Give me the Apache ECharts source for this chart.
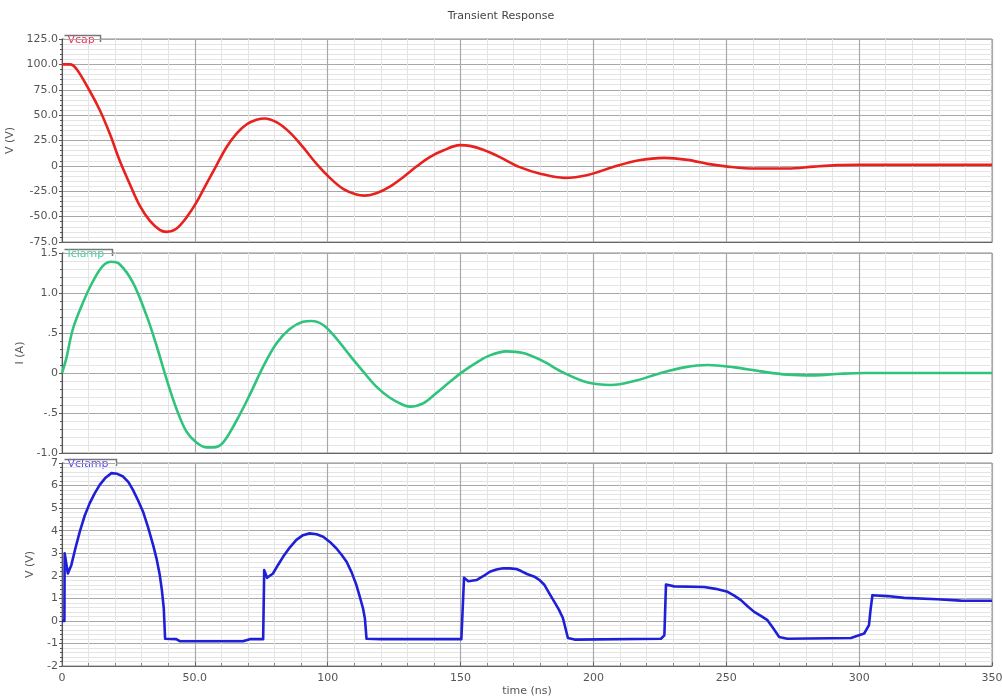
<!DOCTYPE html>
<html>
<head>
<meta charset="utf-8">
<title>Transient Response</title>
<script src="https://cdn.jsdelivr.net/npm/echarts@6/dist/echarts.min.js"></script>
<style>
	html, body { margin: 0; padding: 0; background: #fff; }
	#main { width: 1002px; height: 700px; }
</style>
</head>
<body>
<div id="main"></div>
<script>
// Vcap (V)
var vcapT = [0, 3, 5.4, 10.4, 14.2, 18, 21.7, 25.5, 29.2, 33, 36.8, 39.3, 43, 46.8, 50.6, 54.3, 58.1, 61.9, 65.6, 69.4,
	73.2, 76.3, 80.7, 85.7, 90.7, 95.8, 100.8, 105.8, 110.8, 114, 118.3, 123.4, 128.4, 133.4, 138.4, 143.4, 149.7, 153.5, 158.5, 164.8,
	172, 180.3, 189, 197.9, 207.9, 216.7, 226.7, 235.5, 243, 250.5, 260.5, 273, 283, 291.8, 300, 350];
var vcapV = [100, 100, 95.7, 74, 55, 31.6, 5.3, -17.8, -39, -54, -63, -65, -62, -51, -36, -18, 0.3, 18.4, 31.6, 40.8,
	45.4, 46.7, 43, 33, 18.4, 2, -11.8, -22.7, -28.3, -29.3, -27, -20.4, -11.2, -0.7, 8.6, 15.1, 20.4, 19.7, 15.8, 8.6,
	-1, -7.9, -11.8, -8.9, -0.7, 5.3, 7.9, 5.9, 2, -0.7, -2.6, -2.6, -0.7, 0.7, 1, 1];

// Iclamp (A)
var iclampT = [0, 1.6, 4.1, 7.9, 11.7, 15.4, 18.6, 21.7, 26.7, 31.8, 35.5, 39.3, 43, 46.8, 50.6, 54.3, 56.9, 60.6, 65.6, 70.7,
	75.7, 80.7, 85.7, 90.7, 93.9, 98.3, 103.3, 108.3, 113.3, 118.3, 123.4, 128.4, 130.9, 135.9, 140.9, 146, 151, 156, 161, 167.3,
	173.5, 180.3, 189, 197.9, 206.6, 215.4, 225.4, 234.2, 243, 253, 263, 273, 283, 293, 302, 350];
var iclampV = [0, 0.18, 0.55, 0.88, 1.15, 1.34, 1.39, 1.36, 1.13, 0.72, 0.35, -0.07, -0.44, -0.73, -0.87, -0.93, -0.93, -0.87, -0.6, -0.27,
	0.08, 0.37, 0.55, 0.64, 0.65, 0.6, 0.43, 0.22, 0.02, -0.17, -0.31, -0.4, -0.42, -0.38, -0.25, -0.11, 0.02, 0.13, 0.22, 0.27,
	0.25, 0.16, 0, -0.12, -0.15, -0.1, 0, 0.07, 0.1, 0.07, 0.02, -0.02, -0.03, -0.01, 0, 0];

// Vclamp (V) 分段读取
var vclampT = [0, 0.9, 1.0, 1.5, 2.2, 3.5, 5, 6.7, 8.5, 10.4, 12.3, 14.2, 16.4, 18.6, 20.8, 23, 25, 26.7, 28.6, 30.5,
	32.4, 34.3, 35.6, 36.8, 37.6, 38.3, 38.8, 43, 44.3, 68.1, 70.7, 75.7, 76.1, 77.2, 79.4, 81.3, 83.2, 85.7, 88.2, 90.7,
	93.2, 95.8, 98.3, 100.8, 103.3, 105.2, 107.1, 109, 110.8, 112, 113.3, 114, 114.6, 120, 150.3, 151.3, 152.9, 156, 158.5, 161,
	163.5, 166, 168.5, 171, 172.8, 175, 177.8, 179.8, 181.6, 183.5, 185.3, 187, 188.5, 190.4, 192.9, 225.4, 226.7, 227.3, 230.4, 241.7,
	246, 250.5, 253, 255.5, 258, 260.5, 263, 265.5, 267.8, 269.9, 273, 296.9, 301.9, 303.7, 304.3, 305, 310.6, 316.9, 329.4, 338.2,
	350];
var vclampV = [0, 0, 3, 3, 2.1, 2.47, 3.2, 3.96, 4.65, 5.21, 5.65, 6.03, 6.35, 6.55, 6.52, 6.4, 6.15, 5.81, 5.35, 4.84,
	4.15, 3.36, 2.75, 2.03, 1.35, 0.55, -0.79, -0.81, -0.9, -0.9, -0.81, -0.81, 2.25, 1.91, 2.1, 2.48, 2.84, 3.25, 3.59, 3.8,
	3.88, 3.84, 3.73, 3.5, 3.21, 2.93, 2.62, 2.15, 1.59, 1.1, 0.55, 0.1, -0.79, -0.81, -0.81, 1.91, 1.76, 1.81, 1.98, 2.18,
	2.28, 2.33, 2.33, 2.3, 2.21, 2.08, 1.96, 1.8, 1.59, 1.2, 0.84, 0.5, 0.13, -0.76, -0.83, -0.79, -0.64, 1.61, 1.53, 1.5,
	1.42, 1.29, 1.12, 0.92, 0.65, 0.4, 0.22, 0.03, -0.35, -0.71, -0.79, -0.76, -0.56, -0.19, 0.5, 1.14, 1.1, 1.02, 0.96, 0.9,
	0.89];

// 面板设置
var panels = [
	{ name: 'Vcap', color: '#e8201e', textColor: '#f0305a', unit: 'V (V)', min: -75, max: 125, step: 25, gap: 42, top: 39, height: 203, tabW: 36 },
	{ name: 'Iclamp', color: '#2fc37c', textColor: '#3fd49a', unit: 'I (A)', min: -1, max: 1.5, step: 0.5, gap: 34, top: 253, height: 200, tabW: 48 },
	{ name: 'Vclamp', color: '#1f1fd8', textColor: '#5a4ff0', unit: 'V (V)', min: -2, max: 7, step: 1, gap: 24, top: 463, height: 203, tabW: 52 }
];
var seriesT = [vcapT, iclampT, vclampT];
var seriesV = [vcapV, iclampV, vclampV];

var left = 62, right = 10;
var font = 'DejaVu Sans';
var labelColor = '#555';

function zip(t, v) {
	var out = [];
	for (var i = 0; i < t.length; i++) out.push([t[i], v[i]]);
	return out;
}

// y轴刻度格式
function fmtY(idx, v) {
	if (v === 0) return '0';
	if (idx === 0) return v.toFixed(1);
	if (idx === 1) {
		var s = v.toFixed(1);
		if (Math.abs(v) < 1) s = s.replace('0.', '.');
		return s;
	}
	return String(v);
}

var grids = [], xAxes = [], yAxes = [], series = [], graphics = [];
panels.forEach(function (p, i) {
	grids.push({
		left: left, right: right, top: p.top, height: p.height,
		containLabel: false, outerBoundsMode: 'none',
		show: true, borderColor: '#8a8a8a', borderWidth: 1, backgroundColor: '#fff'
	});
	xAxes.push({
		type: 'value', gridIndex: i, min: 0, max: 350, interval: 50,
		axisLine: { show: true, onZero: false, lineStyle: { color: '#666', width: 1 } },
		axisTick: { show: i === 2, inside: true, length: 4, lineStyle: { color: '#666' } },
		minorTick: { show: i === 2, splitNumber: 5, length: 3, lineStyle: { color: '#888' } },
		axisLabel: {
			show: i === 2, color: labelColor, fontFamily: font, fontSize: 11, margin: 7,
			formatter: function (v) { return v === 50 ? '50.0' : String(v); }
		},
		splitLine: { show: true, lineStyle: { color: '#a8a8a8', width: 1.2 } },
		minorSplitLine: { show: true, lineStyle: { color: '#e4e4e4', width: 1 } },
		name: i === 2 ? 'time (ns)' : '',
		nameLocation: 'middle', nameGap: 20,
		nameTextStyle: { color: labelColor, fontFamily: font, fontSize: 11 }
	});
	yAxes.push({
		type: 'value', gridIndex: i, min: p.min, max: p.max, interval: p.step,
		axisLine: { show: true, lineStyle: { color: '#555', width: 1 } },
		axisTick: { show: true, length: 3, lineStyle: { color: '#555' } },
		minorTick: { show: true, splitNumber: 5, length: 2, lineStyle: { color: '#555' } },
		axisLabel: {
			color: labelColor, fontFamily: font, fontSize: 11, margin: 4,
			formatter: (function (idx) { return function (v) { return fmtY(idx, v); }; })(i)
		},
		splitLine: { show: true, lineStyle: { color: '#a8a8a8', width: 1.2 } },
		minorSplitLine: { show: true, lineStyle: { color: '#e4e4e4', width: 1 } },
		name: p.unit, nameLocation: 'middle', nameGap: p.gap, nameRotate: 90,
		nameTextStyle: { color: labelColor, fontFamily: font, fontSize: 11 }
	});
	series.push({
		type: 'line', name: p.name, xAxisIndex: i, yAxisIndex: i,
		data: zip(seriesT[i], seriesV[i]),
		showSymbol: false, symbol: 'none',
		smooth: i === 2 ? false : 0.35,
		lineStyle: { color: p.color, width: 2.6, join: 'round' },
		z: 3
	});
	// 标签页样式的曲线名
	graphics.push({
		type: 'group', left: left, top: p.top - 6, z: 100,
		children: [
			{ type: 'rect', shape: { x: 0, y: 0, width: p.tabW, height: 11 }, style: { fill: '#fff' } },
			{ type: 'polyline', shape: { points: [[0, 0.5], [p.tabW, 0.5], [p.tabW, 7]] }, style: { stroke: '#777', lineWidth: 1.5, fill: null } },
			{ type: 'text', x: 3, y: 0, style: { text: p.name, fill: p.textColor, font: '11px "DejaVu Sans"' } }
		]
	});
});

var mychart = echarts.init(document.getElementById('main'));
mychart.setOption({
	animation: false,
	backgroundColor: '#fff',
	title: {
		text: 'Transient Response', left: 'center', top: 6,
		textStyle: { color: '#444', fontFamily: font, fontSize: 11, fontWeight: 'normal' }
	},
	grid: grids,
	xAxis: xAxes,
	yAxis: yAxes,
	series: series,
	graphic: graphics
});
</script>
</body>
</html>
